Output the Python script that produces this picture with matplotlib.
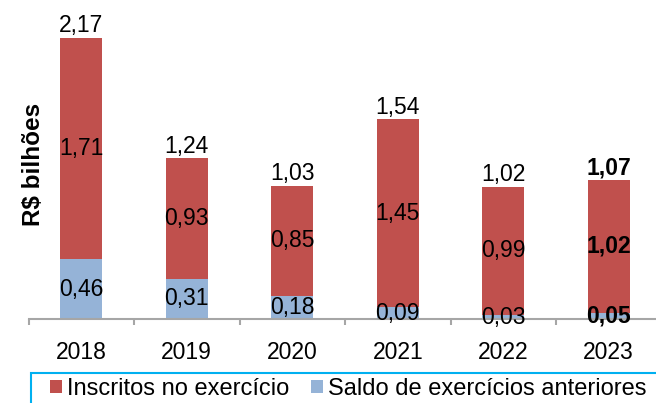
import matplotlib
matplotlib.use("Agg")
import matplotlib.pyplot as plt
from matplotlib.patches import Rectangle

plt.rcParams['font.family'] = ['Liberation Sans', 'DejaVu Sans']

# data
anos = ["2018", "2019", "2020", "2021", "2022", "2023"]
saldo = [0.46, 0.31, 0.18, 0.09, 0.03, 0.05]
inscritos = [1.71, 0.93, 0.85, 1.45, 0.99, 1.02]
totais = [2.17, 1.24, 1.03, 1.54, 1.02, 1.07]

cor_inscritos = "#C0504D"
cor_saldo = "#95B3D7"
fs = 16.5

def fmt(v):
    return f"{v:.2f}".replace(".", ",")

W, H = 656, 403
fig = plt.figure(figsize=(W / 100, H / 100), dpi=100)
ax = fig.add_axes([28.5 / W, 1 - 319 / H, 633 / W, 311 / H])

x = list(range(len(anos)))
b1 = ax.bar(x, saldo, width=0.4, color=cor_saldo, label="Saldo de exercícios anteriores", zorder=2)
b2 = ax.bar(x, inscritos, width=0.4, bottom=saldo, color=cor_inscritos,
            label="Inscritos no exercício", zorder=2)

ax.set_xlim(-0.5, 5.5)
ax.set_ylim(0, 2.4)

# spines / ticks
for s in ["left", "top", "right"]:
    ax.spines[s].set_visible(False)
ax.spines["bottom"].set_color("#A6A6A6")
ax.spines["bottom"].set_linewidth(1.5)
ax.spines["bottom"].set_zorder(3)
ax.set_yticks([])
ax.set_xticks([i - 0.5 for i in range(len(anos) + 1)])
ax.set_xticklabels([])
ax.tick_params(axis="x", which="major", length=4, width=1.5, color="#A6A6A6")
ax.set_xticks(x, minor=True)
ax.set_xticklabels(anos, minor=True, fontsize=fs)
ax.tick_params(axis="x", which="minor", length=0, pad=15.5)

# value labels
for i in x:
    peso = "bold" if i == len(x) - 1 else "normal"
    ax.text(i, saldo[i] / 2, fmt(saldo[i]), ha="center", va="center",
            fontsize=fs, fontweight=peso, zorder=4)
    ax.text(i, saldo[i] + inscritos[i] / 2, fmt(inscritos[i]), ha="center", va="center",
            fontsize=fs, fontweight=peso, zorder=4)
    ax.annotate(fmt(totais[i]), (i, totais[i]), xytext=(0, 0.5), textcoords="offset points",
                ha="center", va="bottom", fontsize=fs, fontweight=peso)

fig.text(33 / W, 1 - 164.5 / H, "R$ bilhões", rotation=90, ha="center", va="center",
         fontsize=17.5, fontweight="bold")

# legend box
fig.patches.append(Rectangle((31 / W, -0.01), (W - 25) / W, (403 - 372.7) / H + 0.01,
                             transform=fig.transFigure, fill=False,
                             edgecolor="#00B0F0", linewidth=1.5))
leg = fig.legend(handles=[b2, b1], labels=["Inscritos no exercício", "Saldo de exercícios anteriores"],
                 loc="center left", bbox_to_anchor=(50 / W, 1 - 389 / H), ncol=2,
                 fontsize=17, frameon=False, handlelength=0.5, handleheight=0.5,
                 handletextpad=0.2, columnspacing=0.95, borderpad=0, borderaxespad=0)

fig.savefig("out.png", dpi=100)
